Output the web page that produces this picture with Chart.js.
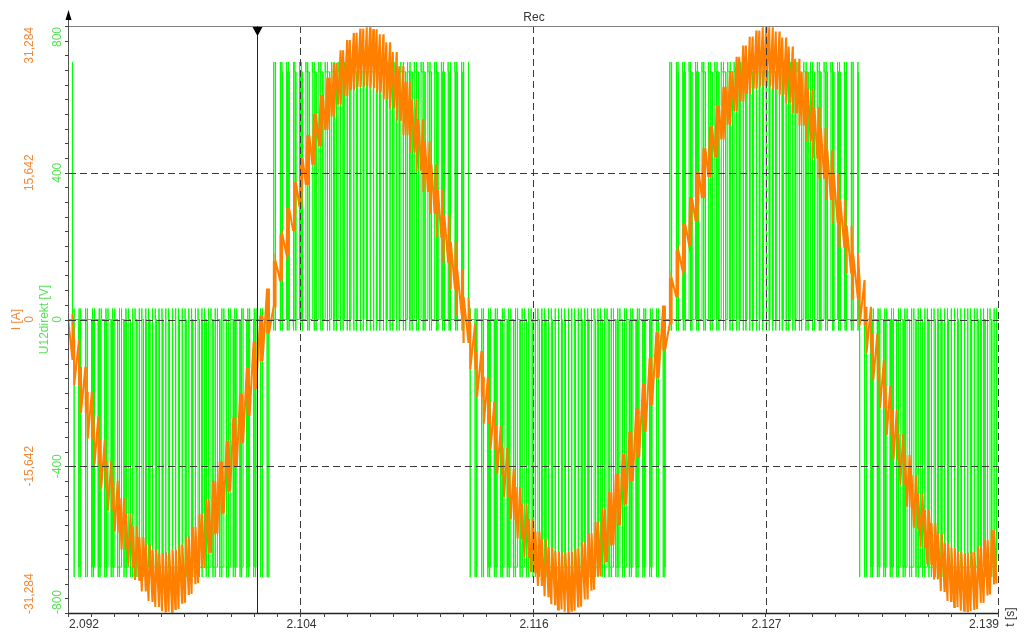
<!DOCTYPE html>
<html>
<head>
<meta charset="utf-8">
<script src="https://cdn.jsdelivr.net/npm/chart.js@4.4.1/dist/chart.umd.min.js"></script>
<style>
  html, body { margin: 0; padding: 0; background: #fff; }
  #wrap { width: 1024px; height: 634px; }
</style>
</head>
<body>
<div id="wrap"><canvas id="chart" width="1024" height="634"></canvas></div>
<script>
// time axis [s]
const timeMin = 2.092;
const timeMax = 2.139;
const timeTicks = [2.092, 2.10375, 2.1155, 2.12725, 2.139];
const timeTickLabels = ["2.092", "2.104", "2.116", "2.127", "2.139"];

// voltage axis U12direkt [V] and current axis I [A] share the grid
const uTicks = [-800, -400, 0, 400, 800];
const uTickLabels = ["-800", "-400", "0", "400", "800"];
const iTickLabels = ["-31,284", "-15,642", "0", "15,642", "31,284"];
const iMax = 31.284;

// cursor position
const cursorTime = 2.1015;

// PWM carrier: centre of the first carrier period and its length
const firstPeriodCentre = 2.09205;
const carrierPeriod = 0.0003336;

// voltage levels
const uLevel = 675;      // flat top of a pulse
const uOvershoot = 702;  // spike at the switching edge
const uRing = 30;        // ringing past zero when the pulse ends

// one set of arrays per half wave of the line voltage
const halfSigns = [1, -1, 1, -1, 1, -1];

// zero-voltage gaps in each carrier period, as fractions of the period:
// [gap in the middle of the period, gap at the period boundary]
const gapsHalf0 = [[0.72, 0.24]];
const gapsHalf1 = [[0.72, 0.24], [0.67, 0.2], [0.62, 0.16], [0.57, 0.13], [0.53, 0.1], [0.48, 0.08], [0.43, 0.06], [0.38, 0.04], [0.33, 0.03], [0.28, 0.03],
                   [0.24, 0.03], [0.2, 0.03], [0.16, 0.04], [0.13, 0.06], [0.1, 0.08], [0.08, 0.1], [0.06, 0.13], [0.04, 0.16], [0.03, 0.2], [0.03, 0.24],
                   [0.03, 0.28], [0.03, 0.33], [0.04, 0.38], [0.06, 0.43], [0.08, 0.48], [0.1, 0.53], [0.13, 0.57], [0.16, 0.62], [0.2, 0.67], [0.24, 0.72]];
const gapsHalf2 = [[0.24, 0.72], [0.2, 0.67], [0.16, 0.62], [0.13, 0.57], [0.1, 0.53], [0.08, 0.48], [0.06, 0.43], [0.04, 0.38], [0.03, 0.33], [0.03, 0.28],
                   [0.03, 0.24], [0.03, 0.2], [0.04, 0.16], [0.06, 0.13], [0.08, 0.1], [0.1, 0.08], [0.13, 0.06], [0.16, 0.04], [0.2, 0.03], [0.24, 0.03],
                   [0.28, 0.03], [0.33, 0.03], [0.38, 0.04], [0.43, 0.06], [0.48, 0.08], [0.53, 0.1], [0.57, 0.13], [0.62, 0.16], [0.67, 0.2], [0.72, 0.24]];
const gapsHalf3 = [[0.72, 0.24], [0.67, 0.2], [0.62, 0.16], [0.57, 0.13], [0.53, 0.1], [0.48, 0.08], [0.43, 0.06], [0.38, 0.04], [0.33, 0.03], [0.28, 0.03],
                   [0.24, 0.03], [0.2, 0.03], [0.16, 0.04], [0.13, 0.06], [0.1, 0.08], [0.08, 0.1], [0.06, 0.13], [0.04, 0.16], [0.03, 0.2], [0.03, 0.24],
                   [0.03, 0.28], [0.03, 0.33], [0.04, 0.38], [0.06, 0.43], [0.08, 0.48], [0.1, 0.53], [0.13, 0.57], [0.16, 0.62], [0.2, 0.67], [0.24, 0.72]];
const gapsHalf4 = [[0.24, 0.72], [0.2, 0.67], [0.16, 0.62], [0.13, 0.57], [0.1, 0.53], [0.08, 0.48], [0.06, 0.43], [0.04, 0.38], [0.03, 0.33], [0.03, 0.28],
                   [0.03, 0.24], [0.03, 0.2], [0.04, 0.16], [0.06, 0.13], [0.09, 0.09], [0.13, 0.06], [0.16, 0.04], [0.2, 0.03], [0.24, 0.03],
                   [0.28, 0.03], [0.33, 0.03], [0.38, 0.04], [0.43, 0.06], [0.48, 0.08], [0.53, 0.1], [0.57, 0.13], [0.62, 0.16], [0.67, 0.2], [0.72, 0.24]];
const gapsHalf5 = [[0.72, 0.24], [0.67, 0.2], [0.62, 0.16], [0.57, 0.13], [0.53, 0.1], [0.48, 0.08], [0.43, 0.06], [0.38, 0.04], [0.33, 0.03], [0.28, 0.03],
                   [0.24, 0.03], [0.2, 0.03], [0.16, 0.04], [0.13, 0.06], [0.1, 0.08], [0.08, 0.1], [0.06, 0.13], [0.04, 0.16], [0.03, 0.2], [0.03, 0.24],
                   [0.03, 0.28]];

// current band centre per carrier period [A]
const currentHalf0 = [-1.8];
const currentHalf1 = [-4.6, -7.5, -10.2, -12.9, -15.4, -17.7, -19.9, -21.8, -23.5, -24.9, -26.1, -27.0, -27.6, -28.0, -28.0, -27.7, -27.1, -26.2, -25.1, -23.6, -22.0, -20.0, -17.9, -15.6, -13.1, -10.5, -7.7, -4.9, -2.0, 0.9];
const currentHalf2 = [3.8, 6.6, 9.4, 12.1, 14.6, 17.0, 19.2, 21.2, 23.0, 24.5, 25.8, 26.8, 27.5, 27.9, 28.0, 27.8, 27.3, 26.5, 25.5, 24.1, 22.5, 20.6, 18.6, 16.3, 13.9, 11.3, 8.6, 5.8, 2.9, 0.0];
const currentHalf3 = [-2.9, -5.8, -8.6, -11.3, -13.9, -16.3, -18.6, -20.6, -22.5, -24.1, -25.5, -26.5, -27.3, -27.8, -28.0, -27.9, -27.5, -26.8, -25.8, -24.5, -23.0, -21.2, -19.2, -17.0, -14.6, -12.1, -9.4, -6.6, -3.8, -0.9];
const currentHalf4 = [2.0, 4.9, 7.7, 10.5, 13.1, 15.6, 17.9, 20.0, 22.0, 23.6, 25.1, 26.2, 27.1, 27.7, 28.0, 28.0, 27.6, 27.0, 26.1, 24.9, 23.5, 21.8, 19.9, 17.7, 15.4, 12.9, 10.2, 7.5, 4.6];
const currentHalf5 = [1.8, -1.1, -4.0, -6.9, -9.7, -12.3, -14.9, -17.2, -19.4, -21.4, -23.2, -24.7, -25.9, -26.9, -27.5, -27.9, -28.0, -27.8, -27.2, -26.4, -25.3];

// current ripple (peak to peak) per carrier period [A]
const rippleHalf0 = [4.8];
const rippleHalf1 = [4.8, 4.9, 5.0, 5.1, 5.2, 5.3, 5.4, 5.5, 5.6, 5.7, 5.8, 6.0, 6.1, 6.2, 6.3, 6.3, 6.2, 6.1, 6.0, 5.8, 5.7, 5.6, 5.5, 5.4, 5.3, 5.2, 5.1, 5.0, 4.9, 4.8];
const rippleHalf2 = [4.8, 4.9, 5.0, 5.1, 5.2, 5.3, 5.4, 5.5, 5.6, 5.7, 5.8, 6.0, 6.1, 6.2, 6.3, 6.3, 6.2, 6.1, 6.0, 5.8, 5.7, 5.6, 5.5, 5.4, 5.3, 5.2, 5.1, 5.0, 4.9, 4.8];
const rippleHalf3 = [4.8, 4.9, 5.0, 5.1, 5.2, 5.3, 5.4, 5.5, 5.6, 5.7, 5.8, 6.0, 6.1, 6.2, 6.3, 6.3, 6.2, 6.1, 6.0, 5.8, 5.7, 5.6, 5.5, 5.4, 5.3, 5.2, 5.1, 5.0, 4.9, 4.8];
const rippleHalf4 = [4.8, 4.9, 5.0, 5.1, 5.2, 5.3, 5.4, 5.5, 5.6, 5.7, 5.8, 6.0, 6.1, 6.2, 6.3, 6.3, 6.2, 6.1, 6.0, 5.8, 5.7, 5.6, 5.5, 5.4, 5.3, 5.2, 5.1, 5.0, 4.8];
const rippleHalf5 = [4.8, 4.9, 5.0, 5.1, 5.2, 5.3, 5.4, 5.5, 5.6, 5.7, 5.8, 6.0, 6.1, 6.2, 6.3, 6.3, 6.2, 6.1, 6.0, 5.8, 5.7];

const gapHalves = [gapsHalf0, gapsHalf1, gapsHalf2, gapsHalf3, gapsHalf4, gapsHalf5];
const currentHalves = [currentHalf0, currentHalf1, currentHalf2, currentHalf3, currentHalf4, currentHalf5];
const rippleHalves = [rippleHalf0, rippleHalf1, rippleHalf2, rippleHalf3, rippleHalf4, rippleHalf5];

const GREEN = "#00ff00";
const ORANGE = "#ff7f00";
const GREEN_TEXT = "#55e355";
const ORANGE_TEXT = "#f28a3a";
const FONT = '12px "Liberation Sans", Arial, sans-serif';

// build the point lists: two pulses per carrier period
const uPoints = [];
const iPoints = [];
let k = 0;
gapHalves.forEach((gaps, h) => {
  const s = halfSigns[h];
  gaps.forEach(([gapMid, gapEdge], j) => {
    const c = firstPeriodCentre + k * carrierPeriod;
    const outer = (1 - gapEdge) * carrierPeriod / 2;
    const inner = gapMid * carrierPeriod / 2;
    const pulses = [[c - outer, c - inner], [c + inner, c + outer]];
    const mid = currentHalves[h][j];
    const r = rippleHalves[h][j];
    pulses.forEach(([t1, t2]) => {
      uPoints.push(
        { x: t1, y: 0 },
        { x: t1, y: s * uOvershoot },
        { x: t1, y: s * uLevel },
        { x: t2, y: s * uLevel },
        { x: t2, y: -s * uRing },
        { x: t2, y: 0 }
      );
      iPoints.push({ x: t1, y: mid - s * r / 2 }, { x: t2, y: mid + s * r / 2 });
    });
    k++;
  });
});

// axes, grid, cursor and labels drawn around the plot
const decor = {
  id: "decor",
  beforeDraw(chart) {
    const ctx = chart.ctx;
    ctx.save();
    ctx.fillStyle = "#fff";
    ctx.fillRect(0, 0, chart.width, chart.height);
    ctx.restore();
  },
  afterDatasetsDraw(chart) {
    const { ctx, chartArea: a, scales } = chart;
    const xs = scales.x, us = scales.u;

    const line = (x1, y1, x2, y2) => {
      ctx.beginPath();
      ctx.moveTo(x1, y1);
      ctx.lineTo(x2, y2);
      ctx.stroke();
    };
    const vText = (str, cx, cy, align, color) => {
      ctx.save();
      ctx.translate(cx, cy);
      ctx.rotate(-Math.PI / 2);
      ctx.textAlign = align;
      ctx.textBaseline = "middle";
      ctx.fillStyle = color;
      ctx.fillText(str, 0, 0);
      ctx.restore();
    };

    ctx.save();
    ctx.lineWidth = 1;

    // dashed grid
    ctx.strokeStyle = "#3a3a3a";
    ctx.setLineDash([7, 4]);
    timeTicks.slice(1).forEach(t => {
      const px = Math.round(xs.getPixelForValue(t)) - 0.5;
      line(px, a.top, px, a.bottom);
    });
    uTicks.slice(1, -1).forEach(v => {
      const py = Math.round(us.getPixelForValue(v)) + 0.5;
      line(a.left, py, a.right, py);
    });
    ctx.setLineDash([]);

    // frame
    ctx.strokeStyle = "#808080";
    line(a.left, a.top + 0.5, a.right, a.top + 0.5);
    ctx.strokeStyle = "#555";
    line(a.left - 0.5, 12, a.left - 0.5, a.bottom);
    ctx.strokeStyle = "#222";
    ctx.lineWidth = 1.5;
    line(a.left - 1, a.bottom + 0.5, a.right, a.bottom + 0.5);
    ctx.lineWidth = 1;

    // minor ticks, left axis
    ctx.strokeStyle = "#444";
    const uStep = (uTicks[1] - uTicks[0]) / 10;
    for (let v = uTicks[0]; v <= uTicks[uTicks.length - 1] + 1e-6; v += uStep) {
      const py = Math.round(us.getPixelForValue(v)) + 0.5;
      line(a.left - 4, py, a.left, py);
    }
    // minor ticks, time axis
    const tStep = (timeTicks[1] - timeTicks[0]) / 10;
    for (let t = timeMin; t <= timeMax + 1e-9; t += tStep) {
      const px = Math.round(xs.getPixelForValue(t)) - 0.5;
      line(px, a.bottom, px, a.bottom + 4);
    }

    // arrow at top of the value axis
    ctx.fillStyle = "#000";
    ctx.beginPath();
    ctx.moveTo(a.left - 0.5, 10);
    ctx.lineTo(a.left - 3.5, 20);
    ctx.lineTo(a.left + 2.5, 20);
    ctx.closePath();
    ctx.fill();

    // cursor
    const cx = Math.round(xs.getPixelForValue(cursorTime)) + 0.5;
    ctx.strokeStyle = "#222";
    line(cx, a.top, cx, a.bottom);
    ctx.beginPath();
    ctx.moveTo(cx - 5, a.top + 1);
    ctx.lineTo(cx + 5, a.top + 1);
    ctx.lineTo(cx, a.top + 10);
    ctx.closePath();
    ctx.fill();

    // tick labels
    ctx.font = FONT;
    uTicks.forEach((v, i) => {
      let py = us.getPixelForValue(v);
      let align = "center";
      if (i === uTicks.length - 1) { align = "right"; py = a.top + 1; }
      if (i === 0) { align = "left"; py = a.bottom + 1; }
      vText(iTickLabels[i], 30, py, align, ORANGE_TEXT);
      vText(uTickLabels[i], 58, py, align, GREEN_TEXT);
    });
    const zeroY = us.getPixelForValue(0);
    vText("I [A]", 17, zeroY, "center", ORANGE_TEXT);
    vText("U12direkt [V]", 45, zeroY, "center", GREEN_TEXT);

    ctx.fillStyle = "#333";
    ctx.textBaseline = "middle";
    timeTicks.forEach((t, i) => {
      const px = xs.getPixelForValue(t);
      ctx.textAlign = i === 0 ? "left" : (i === timeTicks.length - 1 ? "right" : "center");
      ctx.fillText(timeTickLabels[i], px, 625);
    });
    ctx.textAlign = "center";
    ctx.fillText("Rec", (a.left + a.right) / 2, 18);
    vText("t [s]", 1011, 617, "center", "#333");

    ctx.restore();
  }
};

new Chart(document.getElementById("chart"), {
  type: "line",
  data: {
    datasets: [
      {
        label: "I",
        data: iPoints,
        xAxisID: "x",
        yAxisID: "i",
        borderColor: ORANGE,
        borderWidth: 2,
        pointRadius: 0,
        tension: 0,
        fill: false
      },
      {
        label: "U12direkt",
        data: uPoints,
        xAxisID: "x",
        yAxisID: "u",
        borderColor: GREEN,
        borderWidth: 1,
        pointRadius: 0,
        tension: 0,
        fill: false
      }
    ]
  },
  options: {
    responsive: false,
    maintainAspectRatio: false,
    devicePixelRatio: 1,
    animation: false,
    parsing: false,
    events: [],
    layout: { padding: { left: 69, right: 25, top: 26, bottom: 21 } },
    plugins: {
      legend: { display: false },
      tooltip: { enabled: false },
      title: { display: false }
    },
    scales: {
      x: { type: "linear", min: timeMin, max: timeMax, display: false },
      u: { type: "linear", position: "left", min: -800, max: 800, display: false },
      i: { type: "linear", position: "left", min: -iMax, max: iMax, display: false }
    }
  },
  plugins: [decor]
});
</script>
</body>
</html>
